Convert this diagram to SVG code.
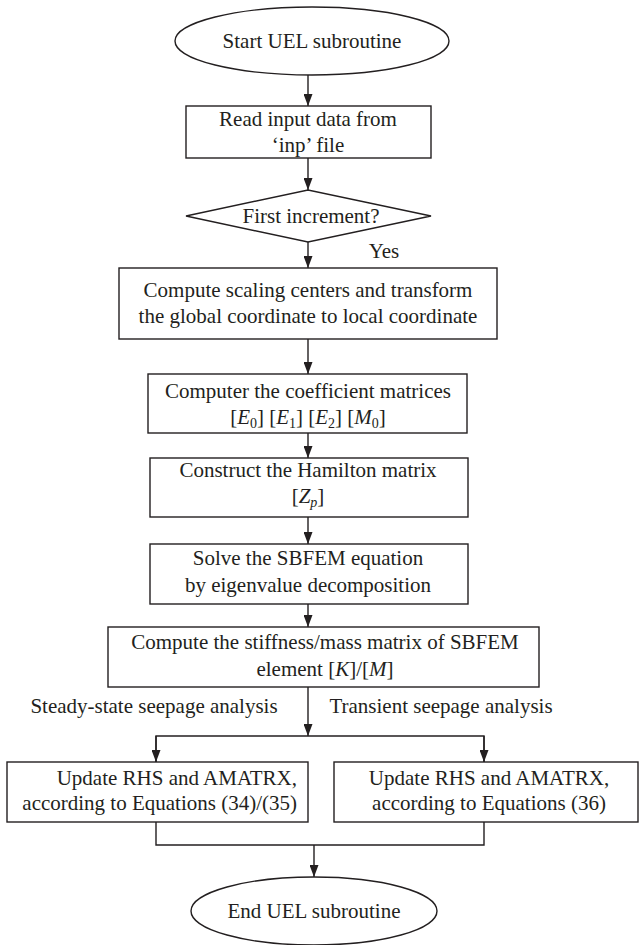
<svg xmlns="http://www.w3.org/2000/svg" width="639" height="945" viewBox="0 0 639 945">
<style>
.box{fill:#fff;stroke:#231f20;stroke-width:1.4}
.con{fill:none;stroke:#231f20;stroke-width:1.4}
.t{font-family:"Liberation Serif","Times New Roman",serif;font-size:21px;fill:#231f20;text-anchor:middle}
.i{font-style:italic}
.s{font-size:14px}
</style>
<defs>
<marker id="arr" markerUnits="userSpaceOnUse" markerWidth="12" markerHeight="9" viewBox="0 0 12 9" refX="12" refY="4.5" orient="auto">
<path d="M0,0 L12,4.5 L0,9 z" fill="#231f20"/>
</marker>
</defs>
<rect width="639" height="945" fill="#fff"/>
<g id="connectors">
<line class="con" x1="308" y1="75" x2="308" y2="106" marker-end="url(#arr)"/>
<line class="con" x1="308" y1="158" x2="308" y2="190" marker-end="url(#arr)"/>
<line class="con" x1="308" y1="242" x2="308" y2="268" marker-end="url(#arr)"/>
<line class="con" x1="308" y1="339" x2="308" y2="374" marker-end="url(#arr)"/>
<line class="con" x1="308" y1="433" x2="308" y2="458" marker-end="url(#arr)"/>
<line class="con" x1="308" y1="517" x2="308" y2="544" marker-end="url(#arr)"/>
<line class="con" x1="308" y1="604" x2="308" y2="627" marker-end="url(#arr)"/>
<line class="con" x1="308" y1="687" x2="308" y2="736" marker-end="url(#arr)"/>
<polyline class="con" points="156,762 156,736 484,736 484,762"/>
<line class="con" x1="156" y1="736" x2="156" y2="762" marker-end="url(#arr)"/>
<line class="con" x1="484" y1="736" x2="484" y2="762" marker-end="url(#arr)"/>
<polyline class="con" points="156,822 156,845 484,845 484,822"/>
<line class="con" x1="314" y1="845" x2="314" y2="877" marker-end="url(#arr)"/>
<text class="t" x="384" y="258">Yes</text>
<text class="t" x="154" y="713">Steady-state seepage analysis</text>
<text class="t" x="441" y="713">Transient seepage analysis</text>
</g>
<g id="start">
<ellipse class="box" cx="312" cy="41" rx="137" ry="34"/>
<text class="t" x="312" y="48">Start UEL subroutine</text>
</g>
<g id="read">
<rect class="box" x="186" y="106" width="245" height="52"/>
<text class="t" x="308" y="126">Read input data from</text>
<text class="t" x="308" y="152">‘inp’ file</text>
</g>
<g id="first">
<polygon class="box" points="186,216 308,190 431,216 308,242"/>
<text class="t" x="311" y="223">First increment?</text>
</g>
<g id="scaling">
<rect class="box" x="119" y="268" width="378" height="71"/>
<text class="t" x="308" y="297">Compute scaling centers and transform</text>
<text class="t" x="308" y="323">the global coordinate to local coordinate</text>
</g>
<g id="coeff">
<rect class="box" x="148" y="374" width="319" height="59"/>
<text class="t" x="308" y="398">Computer the coefficient matrices</text>
<text class="t" x="308" y="424">[<tspan class="i">E</tspan><tspan class="s" dy="4">0</tspan><tspan dy="-4">] [</tspan><tspan class="i">E</tspan><tspan class="s" dy="4">1</tspan><tspan dy="-4">] [</tspan><tspan class="i">E</tspan><tspan class="s" dy="4">2</tspan><tspan dy="-4">] [</tspan><tspan class="i">M</tspan><tspan class="s" dy="4">0</tspan><tspan dy="-4">]</tspan></text>
</g>
<g id="hamilton">
<rect class="box" x="150" y="458" width="318" height="59"/>
<text class="t" x="308" y="477">Construct the Hamilton matrix</text>
<text class="t" x="308" y="503">[<tspan class="i">Z</tspan><tspan class="s i" dy="4">p</tspan><tspan dy="-4">]</tspan></text>
</g>
<g id="solve">
<rect class="box" x="150" y="544" width="318" height="60"/>
<text class="t" x="308" y="565">Solve the SBFEM equation</text>
<text class="t" x="308" y="592">by eigenvalue decomposition</text>
</g>
<g id="stiffness">
<rect class="box" x="108" y="627" width="431" height="60"/>
<text class="t" x="325" y="649">Compute the stiffness/mass matrix of SBFEM</text>
<text class="t" x="325" y="676">element [<tspan class="i">K</tspan>]/[<tspan class="i">M</tspan>]</text>
</g>
<g id="steady">
<rect class="box" x="7" y="762" width="301" height="60"/>
<text class="t" x="297" y="785" style="text-anchor:end">Update RHS and AMATRX,</text>
<text class="t" x="297" y="810" style="text-anchor:end">according to Equations (34)/(35)</text>
</g>
<g id="transient">
<rect class="box" x="334" y="762" width="304" height="60"/>
<text class="t" x="489" y="785">Update RHS and AMATRX,</text>
<text class="t" x="489" y="810">according to Equations (36)</text>
</g>
<g id="end">
<ellipse class="box" cx="314" cy="911" rx="123" ry="34"/>
<text class="t" x="314" y="918">End UEL subroutine</text>
</g>
</svg>
